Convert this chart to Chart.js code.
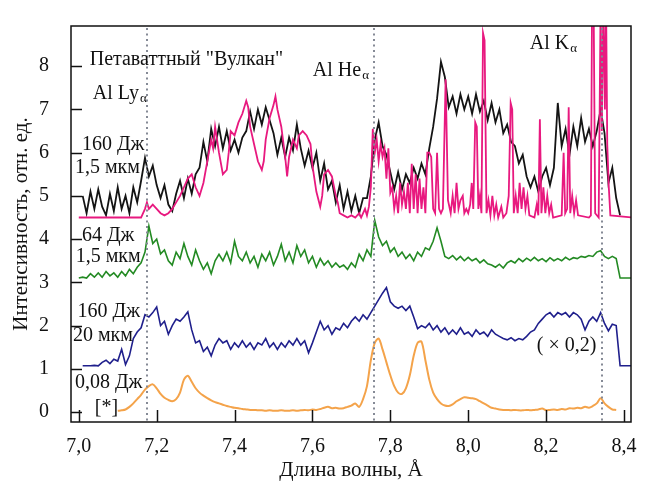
<!DOCTYPE html>
<html><head><meta charset="utf-8">
<script src="https://cdn.jsdelivr.net/npm/chart.js@4"></script>
<style>html,body{margin:0;padding:0;background:#fff}</style>
</head><body>
<canvas id="c" width="648" height="484"></canvas>
<script>
// ---------- DATA ----------
const wavelengths = [
7.00,7.01,7.02,7.03,7.04,7.05,7.06,7.07,7.08,7.09,
7.10,7.11,7.12,7.13,7.14,7.15,7.16,7.17,7.18,7.19,
7.20,7.21,7.22,7.23,7.24,7.25,7.26,7.27,7.28,7.29,
7.30,7.31,7.32,7.33,7.34,7.35,7.36,7.37,7.38,7.39,
7.40,7.41,7.42,7.43,7.44,7.45,7.46,7.47,7.48,7.49,
7.50,7.51,7.52,7.53,7.54,7.55,7.56,7.57,7.58,7.59,
7.60,7.61,7.62,7.63,7.64,7.65,7.66,7.67,7.68,7.69,
7.70,7.71,7.72,7.73,7.74,7.75,7.76,7.77,7.78,7.79,
7.80,7.81,7.82,7.83,7.84,7.85,7.86,7.87,7.88,7.89,
7.90,7.91,7.92,7.93,7.94,7.95,7.96,7.97,7.98,7.99,
8.00,8.01,8.02,8.03,8.04,8.05,8.06,8.07,8.08,8.09,
8.10,8.11,8.12,8.13,8.14,8.15,8.16,8.17,8.18,8.19,
8.20,8.21,8.22,8.23,8.24,8.25,8.26,8.27,8.28,8.29,
8.30,8.31,8.32,8.33,8.34,8.35,8.36,8.37,8.38,8.39,
8.40,8.41,8.42];

// 0,08 Дж [*]
const orange008J = [
null,null,null,null,null,null,null,null,null,null,
0.03,0.04,0.06,0.12,0.2,0.3,0.4,0.52,0.6,0.64,
0.55,0.42,0.33,0.28,0.25,0.3,0.45,0.75,0.84,0.7,
0.55,0.45,0.38,0.32,0.27,0.23,0.2,0.17,0.14,0.12,
0.1,0.09,0.07,0.06,0.05,0.05,0.04,0.04,0.03,0.04,
0.03,0.03,0.04,0.03,0.03,0.04,0.03,0.04,0.05,0.04,
0.06,0.05,0.07,0.1,0.12,0.09,0.1,0.08,0.09,0.12,
0.15,0.2,0.12,0.3,0.6,1.2,1.6,1.7,1.45,1.15,
0.85,0.6,0.45,0.42,0.55,0.85,1.3,1.6,1.63,1.2,
0.75,0.45,0.3,0.2,0.15,0.14,0.18,0.25,0.3,0.34,
0.33,0.32,0.3,0.25,0.2,0.15,0.1,0.08,0.06,0.05,
0.05,0.04,0.05,0.04,0.04,0.05,0.04,0.05,0.06,0.08,
0.04,0.05,0.06,0.05,0.07,0.06,0.09,0.08,0.1,0.09,
0.12,0.1,0.14,0.2,0.32,0.2,0.12,0.06,0.05,null,
null,null,null];

// 160 Дж, 20 мкм (x 0,2)
const navy160J20 = [
null,1.07,1.07,1.07,1.08,1.07,1.15,1.2,1.12,1.22,
1.18,1.45,1.1,1.3,1.7,1.85,1.95,2.25,2.2,2.3,
2.43,2.0,2.1,1.8,2.0,2.15,2.1,2.2,2.32,1.9,
1.6,1.65,1.4,1.5,1.3,1.55,1.7,1.6,1.65,1.45,
1.6,1.5,1.65,1.5,1.6,1.45,1.6,1.55,1.7,1.5,
1.6,1.45,1.6,1.5,1.65,1.55,1.7,1.55,1.65,1.37,
1.6,1.85,2.1,1.9,2.0,1.8,1.95,1.9,2.05,1.95,
2.1,2.2,2.1,2.25,2.15,2.3,2.45,2.6,2.75,2.88,
2.55,2.45,2.4,2.45,2.35,2.45,2.2,1.93,2.0,1.95,
2.05,1.9,2.0,1.85,1.95,1.8,1.9,1.8,1.95,1.8,
1.85,1.75,1.9,1.8,1.85,1.75,1.9,1.8,1.75,1.7,
1.67,1.72,1.65,1.7,1.67,1.75,1.85,1.9,2.05,2.15,
2.25,2.3,2.2,2.3,2.25,2.3,2.2,2.3,2.25,2.15,
1.9,2.1,2.2,2.1,2.3,2.05,1.88,2.03,2.0,1.07,
1.07,1.07,1.07];

// 64 Дж, 1,5 мкм
const green64J = [
3.1,3.12,3.1,3.2,3.12,3.22,3.12,3.25,3.15,3.22,
3.12,3.25,3.15,3.3,3.2,3.35,3.45,3.7,4.3,3.9,
4.0,3.66,3.75,3.5,3.4,3.7,3.55,3.9,3.6,3.4,
3.75,3.5,3.3,3.45,3.2,3.5,3.65,3.5,3.7,3.45,
3.95,3.6,3.5,3.7,3.45,3.6,3.35,3.65,3.5,3.7,
3.4,3.6,3.88,3.5,3.7,3.45,3.85,3.6,3.75,3.45,
3.6,3.35,3.55,3.4,3.5,3.35,3.45,3.35,3.4,3.3,
3.45,3.35,3.65,3.5,3.75,3.6,4.43,4.05,3.85,3.95,
3.7,3.8,3.6,3.7,3.55,3.65,3.5,3.7,3.6,3.8,
3.75,3.95,4.26,3.95,3.6,3.55,3.62,3.52,3.6,3.5,
3.58,3.5,3.55,3.45,3.52,3.43,3.4,3.35,3.42,3.33,
3.45,3.5,3.45,3.55,3.48,3.56,3.5,3.58,3.5,3.55,
3.48,3.57,3.5,3.55,3.5,3.58,3.52,3.57,3.55,3.6,
3.58,3.62,3.6,3.7,3.73,3.6,3.55,3.6,3.55,3.1,
3.1,3.1,3.1];

// 160 Дж, 1,5 мкм (black)
const black160J = [
null,5.0,4.6,5.1,4.7,5.15,4.75,4.55,5.05,4.65,
5.2,4.7,5.0,4.6,5.2,4.85,5.35,5.88,5.45,5.7,
5.25,4.95,5.25,4.8,4.65,5.05,5.35,4.95,5.4,5.05,
5.5,5.65,6.25,5.8,6.55,6.15,6.6,6.1,6.5,6.05,
6.3,6.0,6.35,6.5,6.95,6.55,7.0,6.65,7.05,6.75,
6.45,5.95,6.35,5.9,6.35,6.05,6.65,6.1,5.7,6.05,
5.65,6.0,5.35,5.75,5.15,5.35,4.85,5.25,4.7,5.1,
4.65,5.0,4.6,4.95,4.95,5.45,6.3,6.7,6.15,5.95,
5.55,5.15,5.55,5.15,5.5,5.3,5.65,5.4,5.75,5.5,
6.1,6.6,7.25,8.1,7.75,7.05,7.3,6.9,7.35,7.0,
7.3,6.9,7.35,6.95,7.2,6.75,7.15,6.7,7.0,6.45,
6.65,6.25,6.15,5.75,5.95,5.45,5.2,5.45,5.1,5.45,
5.65,5.25,5.65,7.15,6.15,6.55,5.95,6.6,6.15,6.8,
6.25,6.55,6.15,6.5,7.0,6.45,5.3,5.65,4.95,4.55,
null,null,null];

// 160 Дж, 1,5 мкм (magenta), irregular sampling
const magentaWl = [
7.00,7.16,7.17,7.175,7.18,7.19,7.20,7.21,7.22,7.23,7.24,7.25,7.26,7.27,7.28,7.29,
7.30,7.31,7.32,7.33,7.34,7.345,7.35,7.355,7.36,7.37,7.38,7.385,7.39,7.40,7.41,7.42,
7.43,7.435,7.44,7.45,7.46,7.47,7.475,7.48,7.49,7.50,7.505,7.51,7.52,7.53,7.535,7.54,
7.55,7.56,7.565,7.575,7.585,7.595,7.60,7.61,7.62,7.625,7.63,7.64,7.65,7.66,7.665,7.67,
7.68,7.69,7.70,7.71,7.72,7.725,7.735,7.74,7.745,7.75,7.755,7.76,7.765,7.77,7.775,7.78,
7.785,7.79,7.795,7.80,7.805,7.81,7.815,7.82,7.825,7.83,7.835,7.84,7.845,7.85,7.855,7.86,
7.865,7.87,7.875,7.88,7.885,7.89,7.895,7.90,7.905,7.91,7.915,7.92,7.925,7.93,7.935,7.942,
7.948,7.955,7.96,7.965,7.97,7.975,7.98,7.986,7.99,7.995,8.00,8.005,8.009,8.013,8.018,8.022,
8.026,8.03,8.034,8.038,8.042,8.047,8.052,8.057,8.062,8.067,8.072,8.077,8.085,8.09,8.098,8.104,
8.109,8.113,8.117,8.122,8.127,8.132,8.137,8.142,8.147,8.152,8.157,8.17,8.176,8.18,8.184,8.188,
8.193,8.198,8.203,8.208,8.213,8.218,8.24,8.245,8.249,8.254,8.258,8.262,8.267,8.272,8.277,8.282,
8.31,8.315,8.318,8.322,8.326,8.335,8.34,8.343,8.347,8.351,8.354,8.357,8.361,8.365,8.42];
const magentaVal = [
4.5,4.5,4.7,4.85,4.7,4.8,4.7,4.6,4.55,4.6,4.7,4.85,5.0,5.2,5.4,5.5,
5.2,5.0,5.3,5.8,6.3,6.1,6.6,6.3,6.0,5.5,5.6,6.0,6.5,6.4,6.7,6.9,
7.2,7.05,6.6,6.2,5.8,5.6,5.8,6.3,6.8,7.1,7.3,7.0,6.6,5.9,5.45,5.9,
6.3,6.1,6.4,6.5,6.4,6.2,5.7,5.1,4.75,5.0,5.5,5.6,5.45,5.0,4.85,4.6,
4.55,4.5,4.55,4.5,4.6,4.5,4.7,4.55,4.75,5.2,6.55,6.0,6.3,5.8,6.2,5.9,
6.1,5.4,6.1,5.07,5.2,4.7,5.0,4.6,5.3,4.8,5.1,4.7,5.3,4.6,5.74,4.7,
5.5,4.6,5.4,4.7,5.2,4.6,6.0,6.0,5.9,4.7,4.6,6.0,4.7,4.6,4.7,7.7,
4.9,4.6,5.0,4.6,5.3,4.7,4.9,5.0,4.6,4.7,4.6,4.8,5.3,4.7,6.7,6.6,
4.7,5.0,4.6,8.77,8.6,4.6,4.9,4.55,5.0,4.55,4.8,4.5,4.75,4.5,4.6,5.0,
7.15,7.0,4.6,5.0,4.6,5.3,4.7,5.2,4.7,5.0,4.55,4.5,4.8,4.55,6.77,4.6,
5.2,4.6,5.0,4.6,4.8,4.5,4.55,6.0,4.6,4.7,7.05,4.6,5.0,4.6,4.9,4.55,
4.5,4.55,9.5,9.5,4.6,4.5,9.5,6.5,9.5,7.0,9.5,6.2,5.2,4.55,4.5];

const xTickValues = [7.0,7.2,7.4,7.6,7.8,8.0,8.2,8.4];
const xTickLabels = ['7,0','7,2','7,4','7,6','7,8','8,0','8,2','8,4'];
const yTickValues = [0,1,2,3,4,5,6,7,8];
const yTickLabels = ['0','1','2','3','4','5','6','7','8'];
const lineWavelengths = [7.176, 7.758, 8.343];   // Al Lyα, Al Heα, Al Kα

// ---------- ANNOTATIONS (text in data coordinates) ----------
const notes = [
 {t:'Петаваттный "Вулкан"', wl:7.028, v:8.15},
 {t:'Al Ly', s:'α', wl:7.036, v:7.37},
 {t:'Al He', s:'α', wl:7.601, v:7.9},
 {t:'Al K', s:'α', wl:8.158, v:8.53},
 {t:'160 Дж', wl:7.008, v:6.19},
 {t:'1,5 мкм', wl:6.99, v:5.64},
 {t:'64 Дж', wl:7.008, v:4.08},
 {t:'1,5 мкм', wl:6.992, v:3.59},
 {t:'160 Дж', wl:6.997, v:2.33},
 {t:'20 мкм', wl:6.985, v:1.77},
 {t:'0,08 Дж', wl:6.99, v:0.68},
 {t:'[*]', wl:7.041, v:0.1},
 {t:'( × 0,2)', wl:8.176, v:1.53}
];

const FONT = '"Liberation Serif", "Times New Roman", serif';
const pts = (xs, ys) => xs.map((w, i) => ({x: w, y: ys[i]}));

const decor = {
  id: 'decor',
  afterDatasetsDraw(chart) {
    const {ctx, chartArea: a, scales: {x, y}} = chart;
    ctx.save();
    ctx.strokeStyle = '#858a96';
    ctx.lineWidth = 2;
    ctx.setLineDash([2, 3.5]);
    lineWavelengths.forEach(w => {
      const px = Math.round(x.getPixelForValue(w));
      ctx.beginPath(); ctx.moveTo(px, a.top + 2); ctx.lineTo(px, a.bottom); ctx.stroke();
    });
    ctx.setLineDash([]);
    ctx.strokeStyle = '#111';
    ctx.lineWidth = 1.5;
    ctx.strokeRect(a.left, a.top, a.right - a.left, a.bottom - a.top);
    xTickValues.forEach(v => {
      const px = Math.round(x.getPixelForValue(v)) + 0.5;
      ctx.beginPath(); ctx.moveTo(px, a.bottom); ctx.lineTo(px, a.bottom - 12); ctx.stroke();
    });
    yTickValues.forEach(v => {
      const py = Math.round(y.getPixelForValue(v)) + 0.5;
      ctx.beginPath(); ctx.moveTo(a.left, py); ctx.lineTo(a.left + 11, py); ctx.stroke();
    });
    ctx.fillStyle = '#111';
    ctx.textBaseline = 'middle';
    ctx.textAlign = 'left';
    notes.forEach(n => {
      const px = x.getPixelForValue(n.wl), py = y.getPixelForValue(n.v);
      ctx.font = '20px ' + FONT;
      ctx.fillText(n.t, px, py);
      if (n.s) {
        const w = ctx.measureText(n.t).width;
        ctx.font = '13px ' + FONT;
        ctx.fillText(n.s, px + w + 1, py + 5);
      }
    });
    ctx.restore();
  }
};

new Chart(document.getElementById('c'), {
  type: 'line',
  data: {
    datasets: [
      {data: pts(magentaWl, magentaVal), borderColor: '#e8197f', borderWidth: 1.8},
      {data: pts(wavelengths, black160J), borderColor: '#141414', borderWidth: 1.8},
      {data: pts(wavelengths, green64J), borderColor: '#238a23', borderWidth: 1.6},
      {data: pts(wavelengths, navy160J20), borderColor: '#1f1f8c', borderWidth: 1.6},
      {data: pts(wavelengths, orange008J), borderColor: '#f4a34a', borderWidth: 2, tension: 0.3}
    ]
  },
  options: {
    responsive: false,
    animation: false,
    devicePixelRatio: 1,
    elements: {point: {radius: 0}, line: {tension: 0}},
    layout: {padding: {top: 10, right: 17, left: 0, bottom: 0}},
    plugins: {legend: {display: false}, tooltip: {enabled: false}},
    scales: {
      x: {
        type: 'linear', min: 6.98, max: 8.418,
        afterBuildTicks: s => { s.ticks = xTickValues.map(v => ({value: v})); },
        afterFit: s => { s.height = 62; },
        grid: {display: false}, border: {display: false},
        ticks: {callback: (v, i) => xTickLabels[i], font: {family: FONT, size: 20}, color: '#111', padding: 5, maxRotation: 0, autoSkip: false},
        title: {display: true, text: 'Длина волны, Å', font: {family: FONT, size: 21}, color: '#111', padding: {top: 0, bottom: 1}}
      },
      y: {
        min: -0.23, max: 8.93,
        afterBuildTicks: s => { s.ticks = yTickValues.map(v => ({value: v})); },
        afterFit: s => { s.width = 71; },
        grid: {display: false}, border: {display: false},
        ticks: {callback: (v, i) => yTickLabels[i], font: {family: FONT, size: 20}, color: '#111', padding: 14},
        title: {display: true, text: 'Интенсивность, отн. ед.', font: {family: FONT, size: 21}, color: '#111', padding: {top: 9, bottom: 0}}
      }
    }
  },
  plugins: [decor]
});
</script>
</body></html>
